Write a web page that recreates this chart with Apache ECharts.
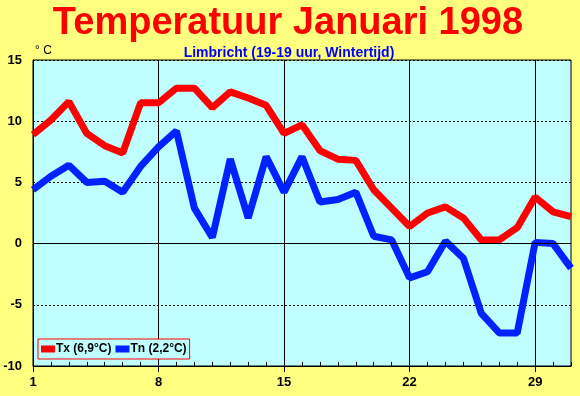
<!DOCTYPE html>
<html><head><meta charset="utf-8">
<script src="https://cdn.jsdelivr.net/npm/echarts@6/dist/echarts.min.js"></script>
<style>html,body{margin:0;padding:0;background:#FFFF80}#c{width:580px;height:396px}</style>
</head><body><div id="c"></div>
<script>
const days = ['1','2','3','4','5','6','7','8','9','10','11','12','13','14','15','16','17','18','19','20','21','22','23','24','25','26','27','28','29','30','31'];
const tx = [8.9,10.1,11.6,9.0,8.0,7.4,11.5,11.5,12.7,12.7,11.1,12.4,11.9,11.3,9.0,9.7,7.6,6.9,6.8,4.4,2.9,1.4,2.5,3.0,2.1,0.3,0.3,1.3,3.8,2.6,2.2];
const tn = [4.4,5.5,6.4,5.0,5.1,4.2,6.3,7.9,9.2,2.9,0.5,6.9,2.1,7.1,4.2,7.1,3.4,3.6,4.2,0.6,0.3,-2.8,-2.3,0.2,-1.2,-5.7,-7.3,-7.3,0.1,0.0,-2.0];
const yTicks = [-10,-5,0,5,10,15];
const chart = echarts.init(document.getElementById('c'));
chart.setOption({
  backgroundColor:'#FFFF80',
  animation:false,
  title:[
    {text:'Temperatuur Januari 1998',left:283,textAlign:'center',top:0,textStyle:{fontFamily:'Liberation Sans',fontSize:38,fontWeight:'bold',color:'#FF0000'}},
    {text:'Limbricht (19-19 uur, Wintertijd)',left:284,top:41,textAlign:'center',textStyle:{fontFamily:'Liberation Sans',fontSize:14,fontWeight:'bold',color:'#0000FF'}},
    {text:'° C',left:30,top:40,textStyle:{fontFamily:'Liberation Sans',fontSize:12,fontWeight:'normal',color:'#000'}}
  ],
  legend:{left:38,top:339,orient:'horizontal',itemWidth:14,itemHeight:7,itemGap:4,icon:'rect',
    borderColor:'#FF0000',borderWidth:1,backgroundColor:'#C0FFFF',padding:[4,3,4,3],borderRadius:0,
    textStyle:{fontFamily:'Liberation Sans',fontSize:12,fontWeight:'bold',color:'#000',padding:[0,0,0,-4]},
    data:['Tx (6,9°C)','Tn (2,2°C)']},
  grid:{left:33,right:9,top:60,bottom:30,show:true,backgroundColor:'#C0FFFF',borderColor:'#000',borderWidth:1,containLabel:false},
  xAxis:[
    {type:'category',data:days,boundaryGap:false,
     axisLine:{onZero:false,lineStyle:{color:'#000',width:1}},
     axisTick:{show:true,inside:true,length:4,interval:0,lineStyle:{color:'#000'}},
     axisLabel:{interval:6,color:'#000',fontFamily:'Liberation Sans',fontSize:13,fontWeight:'bold',margin:10},
     splitLine:{show:true,interval:6,lineStyle:{color:'#000',width:1,type:'solid'}}},
    {type:'category',data:days,boundaryGap:false,position:'bottom',
     axisLine:{show:false,onZero:false},
     axisTick:{show:true,inside:false,length:6,interval:6,lineStyle:{color:'#000'}},
     axisLabel:{show:false},splitLine:{show:false}}
  ],
  yAxis:{type:'value',min:yTicks[0],max:yTicks[yTicks.length-1],interval:5,
    axisLine:{show:true,lineStyle:{color:'#000'}},axisTick:{show:false},
    axisLabel:{color:'#000',fontFamily:'Liberation Sans',fontSize:13,fontWeight:'bold',margin:11},
    splitLine:{show:true,lineStyle:{color:'#000',width:1,type:[2,2]}}},
  series:[
    {name:'Tx (6,9°C)',type:'line',data:tx,symbol:'none',lineStyle:{color:'#FF0000',width:7},itemStyle:{color:'#FF0000'},
     markLine:{silent:true,symbol:'none',label:{show:false},lineStyle:{color:'#000',width:1,type:'solid'},data:[{yAxis:0}]},z:3},
    {name:'Tn (2,2°C)',type:'line',data:tn,symbol:'none',lineStyle:{color:'#0022FF',width:7},itemStyle:{color:'#0022FF'},z:4}
  ]
});
</script></body></html>
